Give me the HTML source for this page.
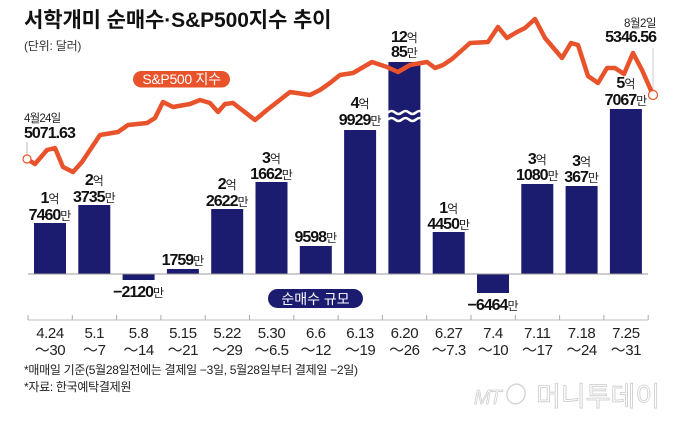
<!DOCTYPE html>
<html><head><meta charset="utf-8"><style>
html,body{margin:0;padding:0;background:#fff;}
svg{display:block;}
text{font-family:"Liberation Sans","Noto Sans CJK KR",sans-serif;}
.n{font-weight:bold;font-size:16px;letter-spacing:-1px;fill:#111;}
.u{font-weight:normal;font-size:12px;letter-spacing:0;fill:#222;}
.xl{font-size:15px;fill:#222;letter-spacing:-0.4px;}
</style></head><body>
<svg width="680" height="422" viewBox="0 0 680 422" xmlns="http://www.w3.org/2000/svg">
<rect width="680" height="422" fill="#fff"/>
<text x="24" y="27" font-size="21" font-weight="bold" fill="#111" letter-spacing="-0.1">서학개미 순매수·S&amp;P500지수 추이</text>
<text x="24" y="50" font-size="12" fill="#333" letter-spacing="-0.2">(단위: 달러)</text>

<!-- bars -->
<g fill="#1b1b6f">
<rect x="34" y="223" width="32" height="51"/>
<rect x="78.3" y="205" width="32" height="69"/>
<rect x="122.6" y="274" width="32" height="6"/>
<rect x="166.9" y="269" width="32" height="5"/>
<rect x="211.2" y="209" width="32" height="65"/>
<rect x="255.5" y="182" width="32" height="92"/>
<rect x="299.8" y="246" width="32" height="28"/>
<rect x="344.1" y="130" width="32" height="144"/>
<rect x="388.4" y="62" width="32" height="212"/>
<rect x="432.7" y="232" width="32" height="42"/>
<rect x="477" y="274" width="32" height="19"/>
<rect x="521.3" y="184" width="32" height="90"/>
<rect x="565.6" y="186" width="32" height="88"/>
<rect x="609.9" y="109" width="32" height="165"/>
</g>
<g fill="none" stroke="#fff" stroke-width="2.5">
<path d="M388,112.5 q3.5,-3 7,0 t7,0 t7,0 t7,0 t7,0"/>
<path d="M388,119.5 q3.5,-3 7,0 t7,0 t7,0 t7,0 t7,0"/>
</g>

<!-- baseline & axis -->
<line x1="28" y1="274" x2="648" y2="274" stroke="#9a9a9a" stroke-width="1"/>
<line x1="28" y1="320" x2="648" y2="320" stroke="#bbb" stroke-width="1"/>
<g stroke="#aaa" stroke-width="1">
<line x1="28" y1="315" x2="28" y2="320"/><line x1="72.3" y1="315" x2="72.3" y2="320"/>
<line x1="116.6" y1="315" x2="116.6" y2="320"/><line x1="160.9" y1="315" x2="160.9" y2="320"/>
<line x1="205.2" y1="315" x2="205.2" y2="320"/><line x1="249.5" y1="315" x2="249.5" y2="320"/>
<line x1="293.8" y1="315" x2="293.8" y2="320"/><line x1="338.1" y1="315" x2="338.1" y2="320"/>
<line x1="382.4" y1="315" x2="382.4" y2="320"/><line x1="426.7" y1="315" x2="426.7" y2="320"/>
<line x1="471" y1="315" x2="471" y2="320"/><line x1="515.3" y1="315" x2="515.3" y2="320"/>
<line x1="559.6" y1="315" x2="559.6" y2="320"/><line x1="603.9" y1="315" x2="603.9" y2="320"/>
<line x1="648.2" y1="315" x2="648.2" y2="320"/>
</g>

<!-- bar labels -->
<g text-anchor="middle">
<text x="50" y="203"><tspan class="n">1</tspan><tspan class="u">억</tspan></text>
<text x="50" y="220"><tspan class="n">7460</tspan><tspan class="u">만</tspan></text>
<text x="94.3" y="185"><tspan class="n">2</tspan><tspan class="u">억</tspan></text>
<text x="94.3" y="202"><tspan class="n">3735</tspan><tspan class="u">만</tspan></text>
<text x="138.6" y="297"><tspan class="n">−2120</tspan><tspan class="u">만</tspan></text>
<text x="182.9" y="265"><tspan class="n">1759</tspan><tspan class="u">만</tspan></text>
<text x="227.2" y="189"><tspan class="n">2</tspan><tspan class="u">억</tspan></text>
<text x="227.2" y="206"><tspan class="n">2622</tspan><tspan class="u">만</tspan></text>
<text x="271.5" y="163"><tspan class="n">3</tspan><tspan class="u">억</tspan></text>
<text x="271.5" y="179"><tspan class="n">1662</tspan><tspan class="u">만</tspan></text>
<text x="315.8" y="242"><tspan class="n">9598</tspan><tspan class="u">만</tspan></text>
<text x="360.1" y="108"><tspan class="n">4</tspan><tspan class="u">억</tspan></text>
<text x="360.1" y="125"><tspan class="n">9929</tspan><tspan class="u">만</tspan></text>
<text x="404.4" y="42"><tspan class="n">12</tspan><tspan class="u">억</tspan></text>
<text x="404.4" y="57"><tspan class="n">85</tspan><tspan class="u">만</tspan></text>
<text x="448.7" y="213"><tspan class="n">1</tspan><tspan class="u">억</tspan></text>
<text x="448.7" y="229"><tspan class="n">4450</tspan><tspan class="u">만</tspan></text>
<text x="493" y="310"><tspan class="n">−6464</tspan><tspan class="u">만</tspan></text>
<text x="537.3" y="164"><tspan class="n">3</tspan><tspan class="u">억</tspan></text>
<text x="537.3" y="180"><tspan class="n">1080</tspan><tspan class="u">만</tspan></text>
<text x="581.6" y="166"><tspan class="n">3</tspan><tspan class="u">억</tspan></text>
<text x="581.6" y="182"><tspan class="n">367</tspan><tspan class="u">만</tspan></text>
<text x="625.9" y="88"><tspan class="n">5</tspan><tspan class="u">억</tspan></text>
<text x="625.9" y="105"><tspan class="n">7067</tspan><tspan class="u">만</tspan></text>
</g>

<!-- x labels -->
<g text-anchor="middle" class="xl">
<text class="xl" x="50" y="338">4.24</text><text class="xl" x="50" y="355">～30</text>
<text class="xl" x="94.3" y="338">5.1</text><text class="xl" x="94.3" y="355">～7</text>
<text class="xl" x="138.6" y="338">5.8</text><text class="xl" x="138.6" y="355">～14</text>
<text class="xl" x="182.9" y="338">5.15</text><text class="xl" x="182.9" y="355">～21</text>
<text class="xl" x="227.2" y="338">5.22</text><text class="xl" x="227.2" y="355">～29</text>
<text class="xl" x="271.5" y="338">5.30</text><text class="xl" x="271.5" y="355">～6.5</text>
<text class="xl" x="315.8" y="338">6.6</text><text class="xl" x="315.8" y="355">～12</text>
<text class="xl" x="360.1" y="338">6.13</text><text class="xl" x="360.1" y="355">～19</text>
<text class="xl" x="404.4" y="338">6.20</text><text class="xl" x="404.4" y="355">～26</text>
<text class="xl" x="448.7" y="338">6.27</text><text class="xl" x="448.7" y="355">～7.3</text>
<text class="xl" x="493" y="338">7.4</text><text class="xl" x="493" y="355">～10</text>
<text class="xl" x="537.3" y="338">7.11</text><text class="xl" x="537.3" y="355">～17</text>
<text class="xl" x="581.6" y="338">7.18</text><text class="xl" x="581.6" y="355">～24</text>
<text class="xl" x="625.9" y="338">7.25</text><text class="xl" x="625.9" y="355">～31</text>
</g>

<!-- S&P line -->
<line x1="27" y1="142" x2="27" y2="155" stroke="#bbb" stroke-width="1"/>
<line x1="653" y1="48" x2="653" y2="90" stroke="#ccc" stroke-width="1"/>
<polyline fill="none" stroke="#e8532b" stroke-width="4.5" stroke-linejoin="round" stroke-linecap="round"
points="27,159 35,164 47,150 55,148 63,167 73,172 82,162 100,135 118,132 128,125 147,123 155,118 163,102 173,107 190,104 200,100 210,103 218,112 225,104 233,103 255,120 267,110 290,92 310,95 320,90 330,83 340,75 353,73 372,62 387,67 398,72 410,65 427,62 435,68 443,65 452,59 470,43 488,42 498,27 507,38 517,32 525,28 535,19 545,38 562,58 571,43 578,45 588,76 598,83 607,68 615,68 624,74 633,53 642,70 653,95"/>
<circle cx="27" cy="159" r="4" fill="#fff" stroke="#e8532b" stroke-width="1.2"/>
<circle cx="653" cy="95" r="4.5" fill="#fff" stroke="#e8532b" stroke-width="1.2"/>

<text x="24" y="122" font-size="11.5" fill="#222" letter-spacing="-0.8">4월24일</text>
<text x="24" y="138" class="n">5071.63</text>
<text x="656" y="27" font-size="11.5" fill="#222" letter-spacing="-0.5" text-anchor="end">8월2일</text>
<text x="656" y="42" class="n" text-anchor="end">5346.56</text>

<!-- pills -->
<rect x="133" y="71" width="97" height="16.5" rx="8.25" fill="#e8532b"/>
<text x="181.5" y="84" font-size="14" fill="#fff" text-anchor="middle" letter-spacing="-0.3">S&amp;P500 지수</text>
<rect x="268" y="289" width="95" height="19" rx="9.5" fill="#1b1b6f"/>
<text x="315.5" y="304" font-size="14" fill="#fff" text-anchor="middle">순매수 규모</text>

<!-- footer -->
<text x="24" y="374" font-size="12" fill="#222" letter-spacing="-0.3">*매매일 기준(5월28일전에는 결제일 −3일, 5월28일부터 결제일 −2일)</text>
<text x="24" y="391" font-size="12" fill="#222" letter-spacing="-0.3">*자료: 한국예탁결제원</text>

<!-- watermark -->
<text x="474" y="404" font-size="20" font-style="italic" fill="#fff" stroke="#cfcfcf" stroke-width="0.8" letter-spacing="-1">MT</text>
<ellipse cx="516" cy="394" rx="9" ry="10" fill="none" stroke="#d2d2d2" stroke-width="1.3" transform="rotate(20 516 394)"/>
<text x="536" y="406" font-size="27" fill="#fff" stroke="#cbcbcb" stroke-width="0.8">머니투데이</text>
</svg>
</body></html>
